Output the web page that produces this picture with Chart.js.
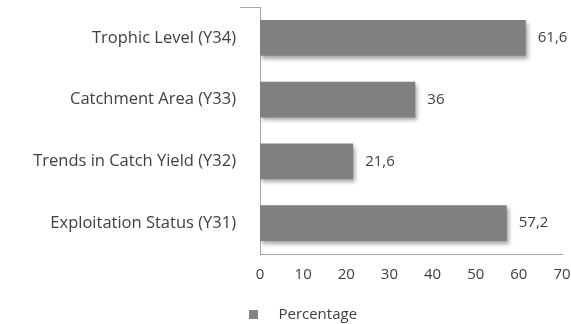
<!DOCTYPE html>
<html>
<head>
<meta charset="utf-8">
<script src="https://cdn.jsdelivr.net/npm/chart.js@4/dist/chart.umd.min.js"></script>
<style>
  html, body { margin: 0; padding: 0; background: #ffffff; }
  #wrap { width: 571px; height: 324px; }
</style>
</head>
<body>
<div id="wrap"><canvas id="c" width="571" height="324"></canvas></div>
<script>
// Indicator categories, top to bottom
const categories = [
  'Trophic Level (Y34)',
  'Catchment Area (Y33)',
  'Trends in Catch Yield (Y32)',
  'Exploitation Status (Y31)'
];
// Percentage per indicator
const percentages = [61.6, 36, 21.6, 57.2];
const seriesName = 'Percentage';
// Value axis ticks
const xTicks = [0, 10, 20, 30, 40, 50, 60, 70];

const FONT = "'Open Sans', 'Liberation Sans', sans-serif";
const TEXT = '#404040';
const AXIS = '#a6a6a6';
const SWATCH = '#838386';

// Small square swatch used as the legend marker
const swatch = document.createElement('canvas');
swatch.width = 9;
swatch.height = 9;
(function () {
  const g = swatch.getContext('2d');
  g.fillStyle = SWATCH;
  g.fillRect(0, 0, 9, 9);
})();

function barFill(context) {
  const chart = context.chart;
  const area = chart.chartArea;
  const el = context.element;
  if (!area || !el || el.height === undefined) return '#808083';
  const top = el.y - el.height / 2;
  const bottom = el.y + el.height / 2;
  if (!isFinite(top) || !isFinite(bottom) || top === bottom) return '#808083';
  const g = chart.ctx.createLinearGradient(0, top, 0, bottom);
  g.addColorStop(0, '#8b8b8e');
  g.addColorStop(1, '#747478');
  return g;
}

// Soft drop shadow under the bars
const barShadow = {
  id: 'barShadow',
  beforeDatasetsDraw(chart) {
    const ctx = chart.ctx;
    ctx.save();
    ctx.shadowColor = 'rgba(0,0,0,0.35)';
    ctx.shadowBlur = 4;
    ctx.shadowOffsetX = 2;
    ctx.shadowOffsetY = 3;
  },
  afterDatasetsDraw(chart) {
    chart.ctx.restore();
  }
};

// Value labels at the end of each bar, decimal comma
const valueLabels = {
  id: 'valueLabels',
  afterDatasetsDraw(chart) {
    const ctx = chart.ctx;
    const meta = chart.getDatasetMeta(0);
    ctx.save();
    ctx.font = '15px ' + FONT;
    ctx.fillStyle = TEXT;
    ctx.textAlign = 'left';
    ctx.textBaseline = 'middle';
    meta.data.forEach((bar, i) => {
      const txt = String(chart.data.datasets[0].data[i]).replace('.', ',');
      ctx.fillText(txt, bar.x + 12, bar.y);
    });
    ctx.restore();
  }
};

// Nudge the legend block lower and slightly right
const legendOffset = {
  id: 'legendOffset',
  afterLayout(chart) {
    const lg = chart.legend;
    if (!lg) return;
    lg.left += 16; lg.right += 16;
    lg.top += 8; lg.bottom += 8;
  }
};

new Chart(document.getElementById('c'), {
  type: 'bar',
  data: {
    labels: categories,
    datasets: [{
      label: seriesName,
      data: percentages,
      backgroundColor: barFill,
      borderWidth: 0,
      categoryPercentage: 1,
      barPercentage: 0.575
    }]
  },
  options: {
    indexAxis: 'y',
    responsive: false,
    animation: false,
    devicePixelRatio: 1,
    layout: { padding: { top: 7, right: 9, left: 0, bottom: 0 } },
    scales: {
      x: {
        min: 0,
        max: 70,
        afterBuildTicks(scale) {
          scale.ticks = xTicks.map(v => ({ value: v }));
        },
        afterFit(scale) {
          scale.height = 45;
          scale.paddingLeft = 0;
          scale.paddingRight = 0;
        },
        grid: { display: false, drawTicks: false },
        border: { display: true, color: AXIS, width: 1 },
        ticks: {
          color: TEXT,
          padding: 12,
          font: { family: FONT, size: 15 }
        }
      },
      y: {
        afterFit(scale) {
          scale.width = 260;
          scale.paddingTop = 0;
          scale.paddingBottom = 0;
        },
        grid: {
          drawOnChartArea: false,
          drawTicks: true,
          tickLength: 20,
          color: (c) => (c.index === 0 || c.index === categories.length) ? AXIS : 'rgba(0,0,0,0)'
        },
        border: { display: true, color: AXIS, width: 1 },
        ticks: {
          color: TEXT,
          padding: 4,
          font: { family: FONT, size: 16.5 }
        }
      }
    },
    plugins: {
      legend: {
        position: 'bottom',
        labels: {
          color: TEXT,
          font: { family: FONT, size: 15 },
          usePointStyle: true,
          pointStyleWidth: 34,
          boxHeight: 9,
          padding: 0,
          generateLabels() {
            return [{
              text: seriesName,
              fillStyle: SWATCH,
              strokeStyle: SWATCH,
              lineWidth: 0,
              pointStyle: swatch,
              datasetIndex: 0,
              fontColor: TEXT
            }];
          }
        }
      },
      tooltip: { enabled: false }
    }
  },
  plugins: [barShadow, valueLabels, legendOffset]
});
</script>
</body>
</html>
